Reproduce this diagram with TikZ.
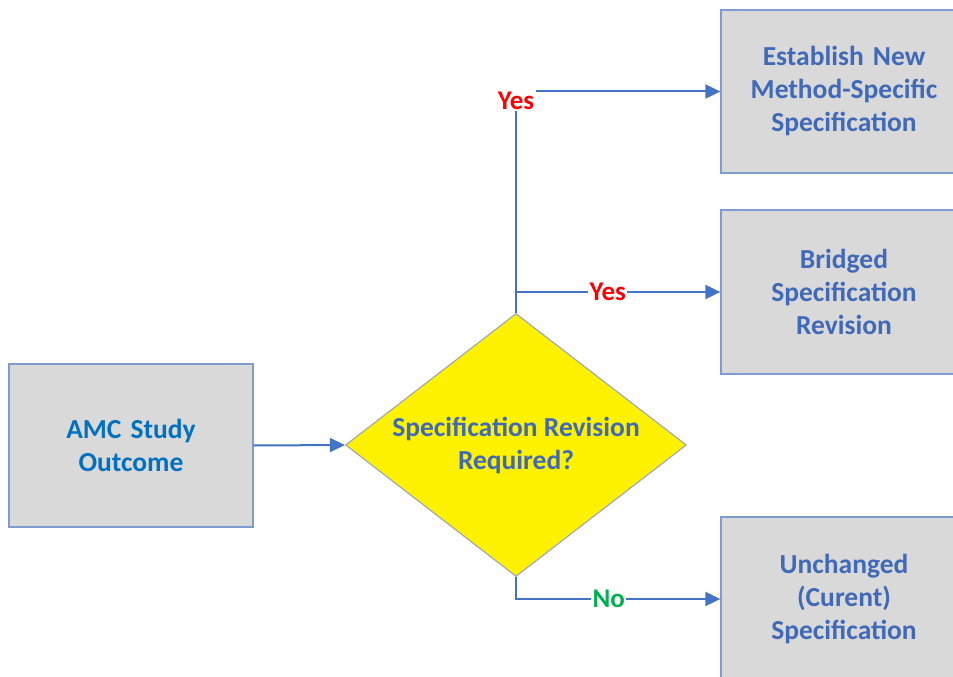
\documentclass[tikz,border=0pt]{standalone}
\usepackage{fontspec}
\setmainfont{Carlito}
\usetikzlibrary{arrows.meta,shapes.geometric}
\definecolor{linec}{HTML}{4472C4}
\definecolor{boxborder}{HTML}{7F9BD0}
\definecolor{boxfill}{HTML}{D9D9D9}
\definecolor{boxtext}{HTML}{4069B8}
\definecolor{amctext}{HTML}{0070C0}
\definecolor{diaborder}{HTML}{A3A9B0}
\definecolor{yesred}{HTML}{FF0000}
\definecolor{nogreen}{HTML}{00B050}
\tikzset{
  box/.style={draw=boxborder, line width=1.3bp, fill=boxfill, minimum width=246bp, text width=240bp, align=center,
    font=\fontsize{27.5bp}{33bp}\selectfont\bfseries, text=boxtext, inner sep=0pt},
  conn/.style={draw=linec, line width=2bp, -{Triangle[length=15bp,width=14bp]}},
  lab/.style={fill=white, inner sep=1.5bp, font=\fontsize{27bp}{30bp}\selectfont\bfseries},
}
\begin{document}
\begin{tikzpicture}[x=1bp,y=-1bp]
\useasboundingbox (0,0) rectangle (953,677);
\clip (0,0) rectangle (953,677);
\node[box, minimum height=163bp, text=amctext, minimum width=244bp] (amc) at (131,445.5) {AMC Study\\Outcome};
\node[diamond, draw=diaborder, line width=1.2bp, fill=yellow, minimum width=341bp, minimum height=263bp, aspect=1.3, inner sep=0pt,
  font=\fontsize{27.5bp}{33bp}\selectfont\bfseries, text=boxtext, align=center] (dec) at (516,445) {Specification Revision\\Required?};
\node[box, minimum height=163bp] (b1) at (844,91.5) {Establish New\\Method-Specific\\Specification};
\node[box, minimum height=164bp] (b2) at (844,292) {Bridged\\Specification\\Revision};
\node[box, minimum height=164bp] (b3) at (844,599) {Unchanged\\(Curent)\\Specification};
\draw[conn] (amc.east) -- (dec.west);
\draw[conn] (dec.north) |- node[lab, text=yesred, yshift=-9bp, pos=0.5] {Yes} (b1.west);
\draw[conn] (dec.north |- b2.west) -- node[lab, text=yesred, pos=0.449] {Yes} (b2.west);
\draw[conn] (dec.south) |- node[lab, text=nogreen, pos=0.727] {No} (b3.west);
\end{tikzpicture}
\end{document}
